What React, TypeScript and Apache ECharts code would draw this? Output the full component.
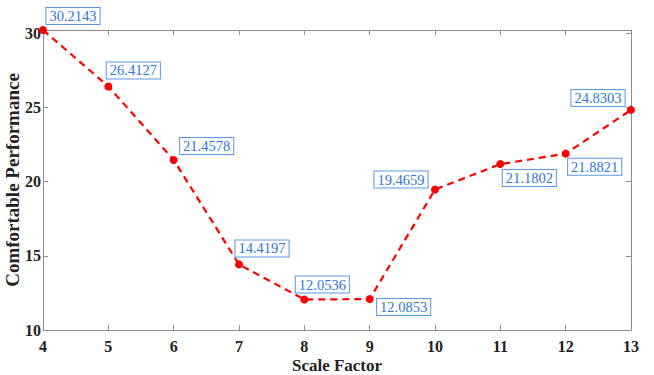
import React, { useEffect, useRef } from "react";
import * as echarts from "echarts";

const scaleFactors = [4, 5, 6, 7, 8, 9, 10, 11, 12, 13];
const performance = [30.2143, 26.4127, 21.4578, 14.4197, 12.0536, 12.0853, 19.4659, 21.1802, 21.8821, 24.8303];
const yTicks = [10, 15, 20, 25, 30];
const xTicks = [4, 5, 6, 7, 8, 9, 10, 11, 12, 13];
// label offsets (center of label box relative to point)
const labelOffsets: [number, number][] = [
  [30, -14], [25, -16], [33, -14], [23, -16], [18, -15],
  [34, 8], [-34, -10], [29, 14], [29, 13], [-33, -12],
];

const FONT = "'Liberation Serif', 'Times New Roman', serif";
const AXIS_COLOR = "#8c8c8c";

export default function App() {
  const ref = useRef<HTMLDivElement>(null);
  useEffect(() => {
    if (!ref.current) return;
    const chart = echarts.init(ref.current, undefined, { renderer: "svg" });
    const tickStyle = { inside: true, length: 5, lineStyle: { color: AXIS_COLOR, width: 1 } };
    const lineStyle = { show: true, lineStyle: { color: AXIS_COLOR, width: 1 } };
    chart.setOption({
      animation: false,
      backgroundColor: "#ffffff",
      grid: { left: 43, right: 23, top: 30, bottom: 45, containLabel: false, outerBoundsMode: "none" },
      xAxis: [
        {
          type: "value",
          min: 4,
          max: 13,
          interval: 1,
          name: "Scale Factor",
          nameLocation: "middle",
          nameGap: 27,
          nameMoveOverlap: false,
          nameTextStyle: { fontFamily: FONT, fontWeight: "bold", fontSize: 17, color: "#222" },
          axisLine: lineStyle,
          axisTick: { ...tickStyle },
          splitLine: { show: false },
          axisLabel: { fontFamily: FONT, fontWeight: "bold", fontSize: 16, color: "#222", margin: 8, customValues: xTicks },
        },
        {
          type: "value",
          position: "top",
          min: 4,
          max: 13,
          interval: 1,
          axisLine: lineStyle,
          axisTick: { ...tickStyle },
          splitLine: { show: false },
          axisLabel: { show: false },
        },
      ],
      yAxis: [
        {
          type: "value",
          min: 10,
          max: 30.2143,
          name: "Comfortable Performance",
          nameLocation: "middle",
          nameGap: 21,
          nameMoveOverlap: false,
          nameTextStyle: { fontFamily: FONT, fontWeight: "bold", fontSize: 19, color: "#222" },
          axisLine: lineStyle,
          axisTick: { ...tickStyle, customValues: yTicks },
          splitLine: { show: false },
          axisLabel: { fontFamily: FONT, fontWeight: "bold", fontSize: 16, color: "#222", margin: 2, customValues: yTicks },
        },
        {
          type: "value",
          position: "right",
          min: 10,
          max: 30.2143,
          axisLine: lineStyle,
          axisTick: { ...tickStyle, customValues: yTicks },
          splitLine: { show: false },
          axisLabel: { show: false },
        },
      ],
      series: [
        {
          type: "line",
          data: scaleFactors.map((x, i) => ({
            value: [x, performance[i]],
            label: {
              show: true,
              position: "inside",
              offset: labelOffsets[i],
              formatter: performance[i].toFixed(4),
            },
          })),
          symbol: "circle",
          symbolSize: 8,
          itemStyle: { color: "#ff0000" },
          lineStyle: { color: "#ff0000", width: 2.2, type: [7, 5] },
          label: {
            fontFamily: FONT,
            fontSize: 14.5,
            color: "#2e76d8",
            backgroundColor: "#ffffff",
            borderColor: "#5c96e6",
            borderWidth: 1,
            padding: [1, 3, 0, 3],
          },
          clip: false,
          z: 3,
        },
      ],
    });
    return () => chart.dispose();
  }, []);
  return <div ref={ref} style={{ width: 654, height: 375, position: "absolute", left: 0, top: 0 }} />;
}
